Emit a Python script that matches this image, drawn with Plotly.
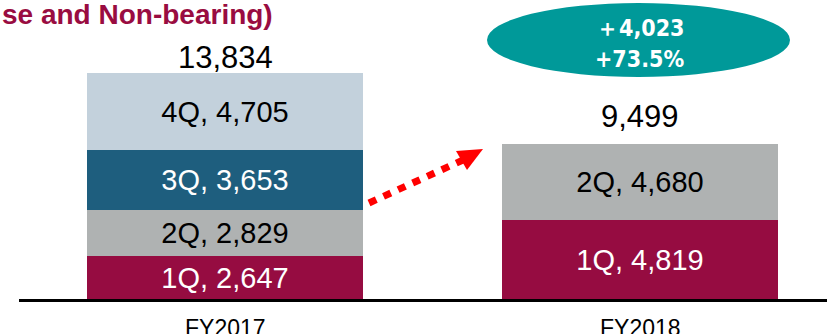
import plotly.graph_objects as go

# ---- data ----
categories = ["FY2017", "FY2018"]
quarters = ["1Q", "2Q", "3Q", "4Q"]
q1_values = [2647, 4819]
q2_values = [2829, 4680]
q3_values = [3653, None]
q4_values = [4705, None]
totals = [13834, 9499]
change_abs = "＋4,023"
change_pct = "+73.5%"
title_text = "se and Non-bearing)"

series = [q1_values, q2_values, q3_values, q4_values]
colors = ["#960C41", "#AFB2B2", "#1E5E7E", "#C3D1DC"]
text_colors = ["white", "black", "white", "black"]

W, H = 827, 334
FONT = "Liberation Sans, Arial, sans-serif"
NARROW = "Liberation Sans Narrow, Arial Narrow, DejaVu Sans Condensed, Liberation Sans, sans-serif"

def px(x):
    return x / W

def py(y):
    return 1 - y / H

fig = go.Figure()
for q, vals, c, tc in zip(quarters, series, colors, text_colors):
    txt = [f"{q}, {v:,}" if v is not None else "" for v in vals]
    fig.add_trace(go.Bar(
        x=categories, y=vals, name=q, marker=dict(color=c, line=dict(width=0)),
        width=0.665, text=txt, textposition="inside", insidetextanchor="middle",
        textfont=dict(family=FONT, size=29, color=tc), constraintext="none",
        hoverinfo="skip",
    ))

annotations = []
# totals
for cat, tot, shift in zip(categories, totals, [16, 28]):
    annotations.append(dict(x=cat, y=tot, xref="x", yref="y", text=f"{tot:,}",
                            showarrow=False, yanchor="middle", yshift=shift,
                            font=dict(family=FONT, size=31, color="black")))
# category labels
for cat in categories:
    annotations.append(dict(x=cat, y=py(328), xref="x", yref="paper", text=cat,
                            showarrow=False, yanchor="middle",
                            font=dict(family=FONT, size=23, color="black")))
# title
annotations.append(dict(x=0, y=py(14.5), xref="paper", yref="paper", text=f"<b>{title_text}</b>",
                        showarrow=False, xanchor="left", yanchor="middle",
                        font=dict(family=FONT, size=28, color="#990C41")))
# ellipse texts
annotations.append(dict(x=px(640), y=py(27.5), xref="paper", yref="paper", text=f"<b>{change_abs}</b>",
                        showarrow=False, xanchor="center", yanchor="middle",
                        font=dict(family=NARROW, size=23, color="white")))
annotations.append(dict(x=px(639), y=py(58.5), xref="paper", yref="paper", text=f"<b>{change_pct}</b>",
                        showarrow=False, xanchor="center", yanchor="middle",
                        font=dict(family=NARROW, size=23, color="white")))

shapes = [
    # baseline
    dict(type="line", xref="paper", yref="paper", x0=px(19), x1=1, y0=py(300.5), y1=py(300.5),
         line=dict(color="black", width=3)),
    # ellipse
    dict(type="circle", xref="paper", yref="paper", x0=px(487), x1=px(790), y0=py(77), y1=py(3),
         fillcolor="#009999", line=dict(width=0), layer="below"),
    # dotted arrow shaft
    dict(type="line", xref="paper", yref="paper", x0=px(369), y0=py(203), x1=px(463), y1=py(160),
         line=dict(color="#FF0000", width=7, dash="8px,8px")),
    # arrow head
    dict(type="path", xref="paper", yref="paper",
         path=f"M {px(483)},{py(149)} L {px(456)},{py(151)} L {px(467)},{py(170)} Z",
         fillcolor="#FF0000", line=dict(width=0)),
]

y_scale = 61.3  # value units per pixel
fig.update_layout(
    width=W, height=H, margin=dict(l=0, r=0, t=0, b=0),
    paper_bgcolor="white", plot_bgcolor="white",
    barmode="stack", bargap=0, showlegend=False,
    xaxis=dict(visible=False, range=[-225 / 415, 1 + (W - 640) / 415]),
    yaxis=dict(visible=False, range=[-(H - 299) * y_scale, 299 * y_scale]),
    annotations=annotations, shapes=shapes,
)

fig.write_html("out.html")
